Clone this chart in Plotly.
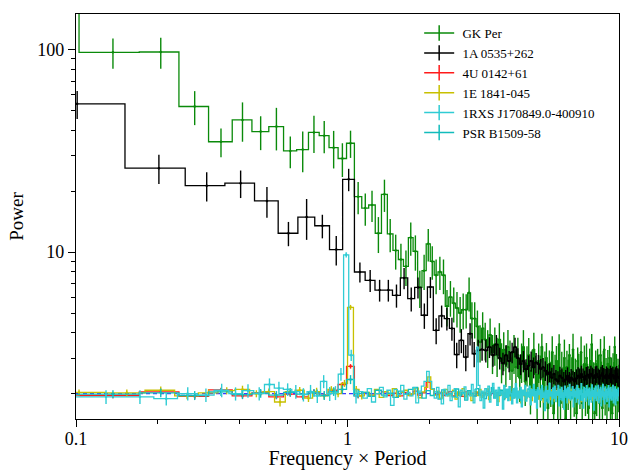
import math
import plotly.graph_objects as go

# ---------------- data ----------------
# bin widths in Frequency x Period units (linear bins, centre of bin k = k*width)
W_GREEN = 0.0684
W_BLACK = 0.101
W_RED = 0.0684
W_YELLOW = 0.0513
W_CYAN = 0.043
W_PSR = 0.0684

NOISE_LEVEL = 2.0
X_RANGE = [0.1, 10.0]
Y_RANGE = [1.5, 150.0]

gkper = [200, 97.0, 97.4, 52.4, 35.1, 45.0, 39.4, 41.7, 31.6, 32.1, 39.0, 37.6, 32.8, 29.0, 34.5, 18.8,
         16.5, 17.1, 12.4, 19.3, 12.3, 10.2, 9.2, 8.5, 11.8, 10.1, 6.7, 8.1, 11.0, 9.0, 7.7, 8.0, 7.7, 5.4,
         6.0, 5.6, 5.3, 5.0, 5.2, 5.2, 6.3, 4.7, 4.7,
         4.3, 3.6, 4.2, 3.7, 3.4, 3.9, 3.2,
         3.5, 3.1, 3.7, 2.9, 3.3, 2.8, 3.4, 3.0, 2.6, 3.2,
         2.7, 3.1, 2.4, 2.9, 3.4, 2.3, 2.8, 3.1, 2.1, 2.7,
         3.3, 2.5, 2.0, 2.9, 2.4, 3.4, 1.9, 2.6, 3.0, 1.7,
         2.8, 2.3, 3.2, 1.6, 2.5, 2.9, 2.1, 3.5, 1.8, 2.6,
         2.2, 3.0, 1.5, 2.7, 2.3, 3.1, 1.9, 2.5, 3.3, 2.0,
         2.4, 1.6, 2.9, 2.6, 2.1, 3.2, 1.8, 2.3, 2.8, 2.0,
         3.0, 2.2, 1.7, 2.7, 2.4, 3.5, 1.9, 2.3, 1.6, 2.8,
         2.1, 2.9, 2.5, 1.8, 3.1, 2.3, 1.7, 2.6, 3.3, 2.0,
         2.4, 1.8, 2.8, 2.2, 3.0, 1.9, 2.5, 1.6, 2.7, 2.3,
         3.4, 2.0, 2.6, 1.8, 2.5, 2.2]
gkper_err = [30, 16.5, 17, 10, 5.7, 9.9, 7.5, 9.9, 5.6, 7.3, 8.1, 6.8, 6.9, 5.5, 5.3, 3.4,
             3.0, 3.0, 2.5, 3.5, 2.3, 2.0, 1.8, 1.7, 2.2, 2.0, 1.4, 1.6, 2.0, 1.7, 1.5, 1.5, 1.5, 1.1,
             1.2, 1.1, 1.05, 1.0, 1.05, 1.0, 1.2, 0.95, 0.95,
             0.85, 0.75, 0.85, 0.78, 0.72, 0.8, 0.7,
             0.75, 0.68, 0.76, 0.65, 0.72, 0.64, 0.73, 0.66, 0.6, 0.7,
             0.62, 0.68, 0.58, 0.64, 0.72, 0.56, 0.63, 0.67, 0.52, 0.6,
             0.7, 0.58, 0.5, 0.64, 0.69, 0.55, 0.49, 0.63, 0.56, 0.71,
             0.47, 0.58, 0.64, 0.45, 0.61, 0.54, 0.68, 0.43, 0.57, 0.62,
             0.5, 0.7, 0.44, 0.56, 0.64, 0.42, 0.6, 0.53, 0.66, 0.46,
             0.58, 0.67, 0.48, 0.55, 0.42, 0.63, 0.58, 0.5, 0.66, 0.45,
             0.54, 0.61, 0.47, 0.64, 0.53, 0.44, 0.6, 0.56, 0.7, 0.47,
             0.55, 0.43, 0.62, 0.5, 0.63, 0.58, 0.46, 0.66, 0.54, 0.44,
             0.6, 0.68, 0.49, 0.56, 0.45, 0.61, 0.52, 0.65, 0.47, 0.57,
             0.43, 0.6, 0.54, 0.7, 0.48, 0.58]

a0535 = [54, 26, 21.3, 21.9, 17.9, 12.4, 14.9, 13.5, 10.3, 22.9,
         7.98, 7.26, 6.5, 6.5, 6.12, 7.46, 5.9, 6.7, 4.88, 6.73, 4.11, 4.85, 4.7, 4.2, 3.12, 3.67, 3.03,
         3.96, 3.15,
         3.27, 3.31, 3.27, 3.4, 3.1, 3.5, 3.0, 2.83, 3.1, 2.9, 3.2, 3.4, 3.0, 2.8, 2.9, 2.64, 2.75, 2.9,
         2.7, 2.85, 2.8,
         2.65, 2.7, 2.6, 2.5, 2.55, 2.4, 2.5, 2.35, 2.3, 2.45,
         2.4, 2.3, 2.35, 2.45, 2.3, 2.4, 2.35, 2.3, 2.38, 2.45,
         2.4, 2.5, 2.42, 2.35, 2.45, 2.48, 2.4, 2.5, 2.45, 2.4,
         2.47, 2.5, 2.42, 2.38, 2.46, 2.52, 2.44, 2.4, 2.48, 2.45,
         2.4, 2.5, 2.43, 2.47, 2.38, 2.44, 2.5, 2.42, 2.4]
a0535_err = [8.5, 4.3, 3.5, 3.4, 3.1, 1.7, 3.4, 1.8, 1.7, 2.9,
             0.9, 0.9, 0.8, 0.8, 0.8, 0.9, 0.8, 0.8, 0.7, 0.8, 0.6, 0.6, 0.6, 0.55, 0.45, 0.5, 0.45, 0.5,
             0.45,
             0.42, 0.4, 0.42, 0.4, 0.38, 0.4, 0.37, 0.36, 0.38, 0.35, 0.37, 0.38, 0.35, 0.33, 0.35, 0.32,
             0.34, 0.33, 0.32, 0.33,
             0.31, 0.32, 0.3, 0.29, 0.3, 0.28, 0.29, 0.27, 0.27, 0.28,
             0.27, 0.26, 0.26, 0.27, 0.25, 0.26, 0.25, 0.25, 0.26, 0.26,
             0.25, 0.26, 0.25, 0.24, 0.25, 0.26, 0.25, 0.25, 0.25, 0.24,
             0.25, 0.26, 0.25, 0.24, 0.25, 0.26, 0.25, 0.24, 0.25, 0.25,
             0.24, 0.25, 0.25, 0.25, 0.24, 0.25, 0.26, 0.24, 0.25, 0.24]

u0142 = [1.97, 1.96, 2.04, 1.94, 2.09, 1.95, 2.02, 1.93, 1.99, 1.93, 2.05, 1.97, 2.08, 2.22, 2.73, 1.95,
         2.02, 1.97, 2.0, 2.04, 1.96, 2.01, 1.95, 2.03, 1.99, 2.06, 1.97, 2.02, 2.28, 2.12,
         1.98, 2.03, 1.96, 2.01, 2.05, 1.95, 2.0, 2.02, 1.94, 2.04, 1.98, 2.01, 1.96, 2.03, 1.99, 1.95,
         2.02, 2.0, 1.97, 2.04,
         1.99, 1.96, 2.03, 2.0, 1.94, 2.02, 1.98, 2.05, 1.97, 2.01, 1.95, 2.03, 1.99, 1.96, 2.04, 2.0,
         1.97, 2.02, 1.95, 2.01,
         1.98, 2.04, 1.96, 2.0, 2.03, 1.94, 1.99, 2.02, 1.97, 2.05, 1.98, 1.95, 2.01, 2.03, 1.96, 2.0,
         1.98, 2.04, 1.93, 2.01,
         1.99, 2.03, 1.96, 2.0, 1.97, 2.04, 1.95, 2.01, 1.99, 2.02, 1.94, 2.0, 2.03, 1.97, 1.99, 2.05,
         1.96, 2.01, 1.98, 2.02,
         1.95, 2.0, 2.04, 1.97, 1.99, 2.02, 1.96, 2.03, 1.98, 2.0, 1.94, 2.02, 1.99, 2.05, 1.97, 2.0,
         1.96, 2.03, 1.98, 2.01,
         1.95, 2.02, 1.99, 2.04, 1.97, 2.0, 1.93, 2.01, 1.98, 2.03, 1.96, 2.0, 2.02, 1.97, 1.99, 1.95]
u0142_err = [0.06, 0.06, 0.05, 0.06, 0.05, 0.05, 0.06, 0.05, 0.05, 0.06, 0.05, 0.05, 0.06, 0.06, 0.07, 0.05]

e1841 = [2.05, 2.03, 2.02, 2.08, 1.95, 2.02, 2.07, 2.1, 2.0, 2.05, 1.82, 2.05, 2.08, 1.9, 2.05, 1.95,
         2.1, 2.0, 2.25, 5.34, 2.1, 1.95,
         2.03, 1.97, 2.1, 1.92, 2.05, 1.99, 2.12, 1.94, 2.03, 2.08, 1.96, 2.0, 2.13, 1.91, 2.04, 2.15,
         2.42, 2.1,
         1.97, 2.06, 1.9, 2.03, 2.1, 1.95, 2.0, 2.08, 1.88, 2.04, 1.98, 2.12, 1.93, 2.02, 2.07, 1.85,
         2.0, 2.05, 1.96, 2.1,
         1.92, 2.03, 1.98, 2.11, 1.87, 2.02, 2.06, 1.94, 2.0, 1.83, 2.08, 1.97, 2.04, 1.9, 2.09, 1.95,
         2.01, 1.86, 2.05, 1.99,
         2.1, 1.92, 1.98, 2.06, 1.8, 2.03, 1.96, 2.08, 1.9, 2.02, 1.97, 2.12, 1.85, 2.0, 2.05, 1.93,
         1.99, 2.09, 1.88, 2.03,
         1.95, 2.06, 1.82, 2.01, 2.1, 1.94, 1.98, 2.04, 1.87, 2.07, 1.96, 2.0, 1.84, 2.05, 1.99, 2.11,
         1.91, 2.02, 1.96, 2.08,
         1.86, 2.03, 1.97, 2.09, 1.92, 2.0, 1.8, 2.05, 1.98, 2.1, 1.89, 2.02, 1.95, 2.07, 1.93, 1.99,
         2.13, 1.88, 2.01, 1.96,
         2.06, 1.83, 2.0, 2.08, 1.94, 1.98, 2.11, 1.87, 2.03, 1.96, 2.05, 1.9, 2.0, 2.09, 1.85, 2.02,
         1.97, 2.07, 1.92, 2.01,
         1.95, 2.1, 1.88, 2.03, 1.98, 2.06, 1.82, 2.0, 2.08, 1.93, 1.99, 2.12, 1.9, 2.04, 1.96, 2.07,
         1.86, 2.01, 1.97, 2.05,
         1.91, 2.03, 1.99, 2.1, 1.87, 2.02, 1.95, 2.08, 1.93, 2.0, 2.06, 1.89, 2.02, 1.97, 2.04]
e1841_err = [0.08, 0.07, 0.08, 0.09, 0.07, 0.08, 0.08, 0.09, 0.08, 0.07, 0.09, 0.08, 0.08, 0.08, 0.09,
             0.07, 0.08, 0.08, 0.09, 0.15, 0.08, 0.08]

j1708 = [1.93, 1.93, 1.93, 1.93, 1.89, 2.0, 1.97, 2.08, 2.0, 2.07, 2.0, 2.22, 2.13, 2.1, 2.05, 1.98,
         2.05, 1.95, 2.3, 2.0, 2.02, 2.5, 9.7, 3.1, 1.95,
         2.05, 1.9, 2.12, 1.82, 2.0, 2.15, 1.93, 2.08, 1.75, 2.1, 1.98, 2.2, 1.88, 2.03, 1.95, 2.14,
         1.8, 2.06, 2.18, 2.3, 2.58, 2.3, 2.12,
         1.9, 2.15, 2.02, 1.78, 2.1, 1.95, 2.2, 1.85, 2.05, 2.12, 1.92, 1.72, 2.08, 2.0, 2.16, 1.88,
         2.04, 1.95, 2.22, 1.8, 2.1, 3.4,
         2.2, 1.85, 2.06, 1.7, 2.12, 1.96, 2.18, 1.82, 2.03, 2.25, 1.9, 2.08, 1.75, 2.15, 1.98, 2.05,
         1.68, 2.2, 1.92, 2.1,
         1.85, 2.17, 2.0, 1.78, 2.12, 1.94, 2.24, 1.8, 2.06, 1.9, 2.15, 1.72, 2.08, 1.97, 2.2, 1.84,
         2.03, 1.93, 2.18, 1.76,
         2.1, 1.95, 2.22, 1.82, 2.05, 1.7, 2.14, 1.98, 2.08, 1.86, 2.2, 1.92, 2.02, 1.65, 2.16, 1.9,
         2.07, 1.8, 2.25, 1.95,
         2.04, 1.78, 2.12, 1.9, 2.18, 1.83, 2.06, 1.97, 2.2, 1.74, 2.1, 1.92, 2.15, 1.85, 2.02, 1.68,
         2.18, 1.95, 2.08, 1.8,
         2.14, 1.9, 2.22, 1.86, 2.03, 1.96, 2.17, 1.72, 2.1, 1.93, 2.05, 1.82, 2.2, 1.9, 2.12, 1.78,
         2.08, 1.98, 2.24, 1.85,
         2.0, 1.7, 2.15, 1.92, 2.06, 1.84, 2.19, 1.95, 2.1, 1.76, 2.13, 1.9, 2.04, 1.82, 2.21, 1.94,
         2.07, 1.66, 2.12, 1.9,
         2.18, 1.85, 2.03, 1.96, 2.2, 1.8, 2.09, 1.92, 2.15, 1.74, 2.06, 1.95, 2.22, 1.87, 2.02, 1.78,
         2.16, 1.93, 2.1, 1.83,
         2.05, 1.97, 2.19, 1.72, 2.11, 1.9, 2.14, 1.86, 2.03, 1.95, 2.2, 1.8, 2.08, 1.93, 2.16, 1.76,
         2.1, 1.9, 2.02, 1.85, 2.13, 1.96]
j1708_err = [0.15, 0.14, 0.15, 0.15, 0.14, 0.15, 0.15, 0.16, 0.15, 0.16, 0.15, 0.16, 0.16, 0.15, 0.16,
             0.15, 0.16, 0.15, 0.17, 0.16, 0.16, 0.18, 0.3, 0.2, 0.16]

b1509 = [1.98, 1.99, 2.02, 1.96, 2.04, 1.98, 2.01, 1.97, 2.03, 1.99, 2.02, 1.96, 2.05, 2.1, 2.35, 2.0,
         2.03, 1.94, 2.08, 1.97, 2.01, 1.92, 2.06, 1.99, 2.1, 2.15,
         2.02, 1.9, 2.07, 1.96, 2.04, 1.88, 2.09, 1.98, 2.0, 1.93,
         2.11, 1.95, 2.03, 1.86, 2.07, 2.0, 1.94, 2.12, 1.97, 2.02,
         1.89, 2.06, 1.99, 2.14, 1.91, 2.03, 1.96, 2.08, 1.87, 2.01,
         2.1, 1.95, 2.04, 1.9, 2.13, 1.98, 2.02, 1.85, 2.07, 1.96,
         2.0, 2.11, 1.92, 2.05, 1.97, 2.09, 1.88, 2.03, 1.99, 2.12,
         1.93, 2.06, 1.84, 2.02, 2.08, 1.95, 2.0, 2.14, 1.9, 2.04,
         1.97, 2.1, 1.87, 2.03, 1.98, 2.07, 1.92, 2.11, 1.96, 2.0,
         2.05, 1.89, 2.09, 1.94, 2.02, 2.13, 1.91, 2.06, 1.98, 1.86,
         2.08, 2.0, 1.95, 2.12, 1.9, 2.04, 1.97, 2.1, 1.88, 2.03,
         1.99, 2.07, 1.93, 2.15, 1.96, 2.01, 1.85, 2.09, 2.02, 1.94,
         2.11, 1.98, 2.04, 1.89, 2.06, 1.97, 2.13, 1.92, 2.0, 2.08,
         1.95, 2.03, 1.87, 2.1, 1.99, 2.05, 1.91, 2.07, 1.96, 2.02]
b1509_err = [0.1, 0.09, 0.1, 0.1, 0.09, 0.1, 0.1, 0.09, 0.1, 0.1, 0.09, 0.1, 0.1, 0.1, 0.12, 0.1]

names = ["GK Per", "1A 0535+262", "4U 0142+61", "1E 1841-045", "1RXS J170849.0-400910", "PSR B1509-58"]
colors = ["#0a8a0a", "#000000", "#ff1a1a", "#c8c000", "#30ccd4", "#12bcbc"]

series = {
    "GK Per": (gkper, gkper_err, W_GREEN),
    "1A 0535+262": (a0535, a0535_err, W_BLACK),
    "4U 0142+61": (u0142, u0142_err, W_RED),
    "1E 1841-045": (e1841, e1841_err, W_YELLOW),
    "1RXS J170849.0-400910": (j1708, j1708_err, W_CYAN),
    "PSR B1509-58": (b1509, b1509_err, W_PSR),
}
color_of = dict(zip(names, colors))
SERIF = "Liberation Serif, Times New Roman, serif"

fig = go.Figure()


def add_series(name):
    vals, errs, w = series[name]
    c = color_of[name]
    centers = [(k + 1) * w for k in range(len(vals))]
    xs = [x - w / 2 for x in centers] + [centers[-1] + w / 2]
    ys = list(vals) + [vals[-1]]
    fig.add_trace(go.Scatter(x=xs, y=ys, mode="lines", line=dict(color=c, width=1.3, shape="hv"),
                             showlegend=False, hoverinfo="skip"))
    n = min(len(errs), len(vals))
    fig.add_trace(go.Scatter(x=centers[:n], y=vals[:n], mode="markers",
                             marker=dict(color=c, size=2.5),
                             error_y=dict(type="data", array=errs[:n], symmetric=True,
                                          width=0, thickness=1.4, color=c),
                             showlegend=False, hoverinfo="skip"))


# draw order: green, black above it, low-level series, dashed noise level, cyan on top
add_series("GK Per")
add_series("1A 0535+262")
add_series("4U 0142+61")
fig.add_trace(go.Scatter(x=X_RANGE, y=[NOISE_LEVEL, NOISE_LEVEL], mode="lines",
                         line=dict(color="#3a3aff", width=1.3, dash="4px,3px"),
                         showlegend=False, hoverinfo="skip"))
add_series("1E 1841-045")
add_series("PSR B1509-58")
add_series("1RXS J170849.0-400910")

# legend entries (line with vertical error-bar glyph)
for nm in names:
    c = color_of[nm]
    fig.add_trace(go.Scatter(x=[None], y=[None], mode="lines+markers", name="\u2005" + nm,
                             line=dict(color=c, width=1.5),
                             marker=dict(symbol="line-ns", size=11, line=dict(color=c, width=1.5))))

minor_x = [m * 10 ** e for e in (-1, 0) for m in range(2, 10)]
minor_y = [m * 10 ** e for e in (0, 1) for m in range(2, 10)]

axis_common = dict(type="log", showgrid=False, zeroline=False, ticks="outside", ticklen=7,
                   tickwidth=1.2, tickcolor="black", showline=True, linecolor="black", linewidth=1.3,
                   mirror=True, automargin=False,
                   tickfont=dict(size=18, family=SERIF, color="black"))

fig.update_layout(
    width=630, height=470,
    margin=dict(l=76, r=11, t=14, b=51),
    plot_bgcolor="white", paper_bgcolor="white",
    font=dict(family=SERIF, color="black"),
    xaxis=dict(range=[math.log10(X_RANGE[0]), math.log10(X_RANGE[1])],
               tickvals=[0.1, 1, 10], ticktext=["0.1", "1", "10"],
               ticklabelstandoff=-4,
               minor=dict(tickvals=minor_x, ticks="outside", ticklen=4, tickcolor="black", tickwidth=1),
               title=dict(text="Frequency \u00d7 Period", font=dict(size=20, family=SERIF), standoff=2),
               **axis_common),
    yaxis=dict(range=[math.log10(Y_RANGE[0]), math.log10(Y_RANGE[1])],
               tickvals=[10, 100], ticktext=["10", "100"],
               minor=dict(tickvals=minor_y, ticks="outside", ticklen=4, tickcolor="black", tickwidth=1),
               title=dict(text="Power", font=dict(size=19, family=SERIF), standoff=8),
               **axis_common),
    legend=dict(x=0.632, y=0.99, xanchor="left", yanchor="top", bgcolor="rgba(0,0,0,0)",
                font=dict(size=13, family=SERIF), tracegroupgap=0, itemwidth=30),
)

fig.write_html("out.html", config={"displayModeBar": False},
               post_script="document.body.style.margin='0';document.body.style.overflow='hidden';")
